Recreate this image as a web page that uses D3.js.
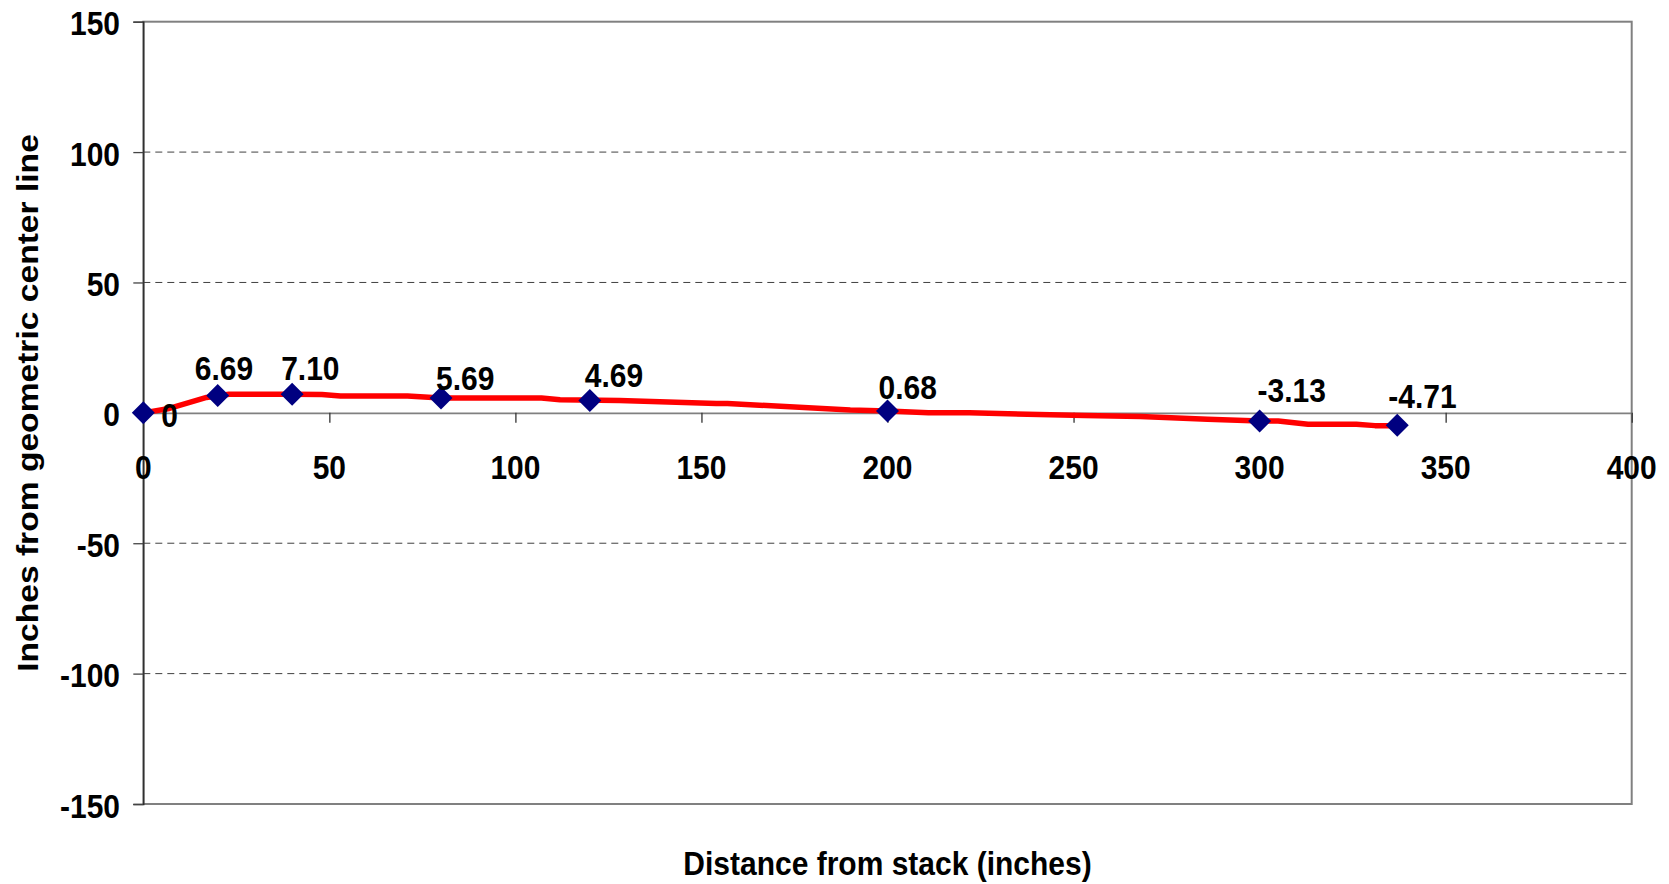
<!DOCTYPE html>
<html>
<head>
<meta charset="utf-8">
<script src="https://cdn.jsdelivr.net/npm/d3@7"></script>
<style>
  html, body { margin: 0; padding: 0; background: #fff; }
  svg { display: block; }
  text { font-family: "Liberation Sans", Arial, sans-serif; font-weight: bold; fill: #000; }
</style>
</head>
<body>
<svg id="chart" width="1669" height="884"></svg>
<script>
// ---- data ----
const xTicks = [0, 50, 100, 150, 200, 250, 300, 350, 400];
const yTicks = [-150, -100, -50, 0, 50, 100, 150];
const pointX = [0, 20, 40, 80, 120, 200, 300, 337];
const pointY = [0, 6.69, 7.10, 5.69, 4.69, 0.68, -3.13, -4.71];
const pointLabels = ["0", "6.69", "7.10", "5.69", "4.69", "0.68", "-3.13", "-4.71"];
const curveX = [0, 7, 17, 23, 40, 48, 53, 71, 80, 107, 112, 128, 154, 157, 190, 200, 211, 222, 253, 268, 286, 300, 305, 313, 326, 331, 337];
const curveY = [0, 1.7, 5.9, 7.1, 7.1, 7.0, 6.5, 6.5, 5.69, 5.69, 5.0, 4.7, 3.6, 3.6, 1.1, 0.68, 0.0, 0.0, -1.0, -1.4, -2.5, -3.13, -3.13, -4.4, -4.4, -4.9, -4.9];
const xTitle = "Distance from stack (inches)";
const yTitle = "Inches from geometric center line";

// ---- layout (label nudges, px) ----
const labelDx = [18, -23, -11, -5, -5, -9, -2, -9];
const labelDy = [14, -15, -14, -8, -14, -12, -19, -17];

const svg = d3.select("#chart");
const L = 143.3, R = 1631.7, T = 21.7, B = 804;
const FS = 30, SY = 1.12;

const x = d3.scaleLinear().domain([0, 400]).range([L, R]);
const y = d3.scaleLinear().domain([-150, 150]).range([B, T]);

function label(xp, yp, str, anchor, rotate) {
  const g = svg.append("g").attr("transform", `translate(${xp},${yp})` + (rotate ? " rotate(-90)" : ""));
  g.append("text")
    .attr("transform", rotate ? `scale(${SY},1)` : `scale(1,${SY})`)
    .attr("text-anchor", anchor)
    .style("font-size", FS + "px")
    .text(str);
}

// gridlines (dashed)
svg.append("g").selectAll("line")
  .data(yTicks.filter(v => v !== 0 && Math.abs(v) !== 150))
  .join("line")
  .attr("x1", L).attr("x2", R)
  .attr("y1", d => y(d)).attr("y2", d => y(d))
  .attr("stroke", "#404040").attr("stroke-width", 1)
  .attr("stroke-dasharray", "7,5");

// plot border (gray)
svg.append("rect")
  .attr("x", L).attr("y", y(150))
  .attr("width", R - L).attr("height", y(-150) - y(150))
  .attr("fill", "none").attr("stroke", "#808080").attr("stroke-width", 2);

// y axis
const yAxis = d3.axisLeft(y).tickValues(yTicks).tickSize(10).tickFormat("");
const gy = svg.append("g").attr("transform", `translate(${L},0)`).call(yAxis);
gy.select(".domain").attr("stroke", "#222").attr("stroke-width", 1.3);
gy.selectAll(".tick line").attr("stroke", "#444").attr("stroke-width", 1.3);

yTicks.forEach(v => label(120, y(v) + 13.5, String(v), "end"));

// x axis at y=0
const xAxis = d3.axisBottom(x).tickValues(xTicks).tickSize(10).tickSizeOuter(0).tickFormat("");
const gx = svg.append("g").attr("transform", `translate(0,${y(0)})`).call(xAxis);
gx.select(".domain").attr("stroke", "#808080").attr("stroke-width", 1.6);
gx.selectAll(".tick line").attr("stroke", "#333").attr("stroke-width", 1.3);

xTicks.forEach(v => label(x(v), 479, String(v), "middle"));

// red curve
const curve = curveX.map((d, i) => [d, curveY[i]]);
svg.append("path")
  .datum(curve)
  .attr("fill", "none")
  .attr("stroke", "#FF0000")
  .attr("stroke-width", 5.5)
  .attr("stroke-linejoin", "round")
  .attr("d", d3.line().x(d => x(d[0])).y(d => y(d[1])));

// diamonds
const pts = pointX.map((d, i) => ({ x: d, y: pointY[i], label: pointLabels[i], i }));
svg.append("g").selectAll("path")
  .data(pts)
  .join("path")
  .attr("transform", d => `translate(${x(d.x)},${y(d.y)})`)
  .attr("d", "M0,-11.5L11.5,0L0,11.5L-11.5,0Z")
  .attr("fill", "#000080");

// data labels
pts.forEach(d => label(x(d.x) + labelDx[d.i], y(d.y) + labelDy[d.i], d.label, "start"));

// titles
label((L + R) / 2, 875, xTitle, "middle");
label(37.5, 403, yTitle, "middle", true);
</script>
</body>
</html>
